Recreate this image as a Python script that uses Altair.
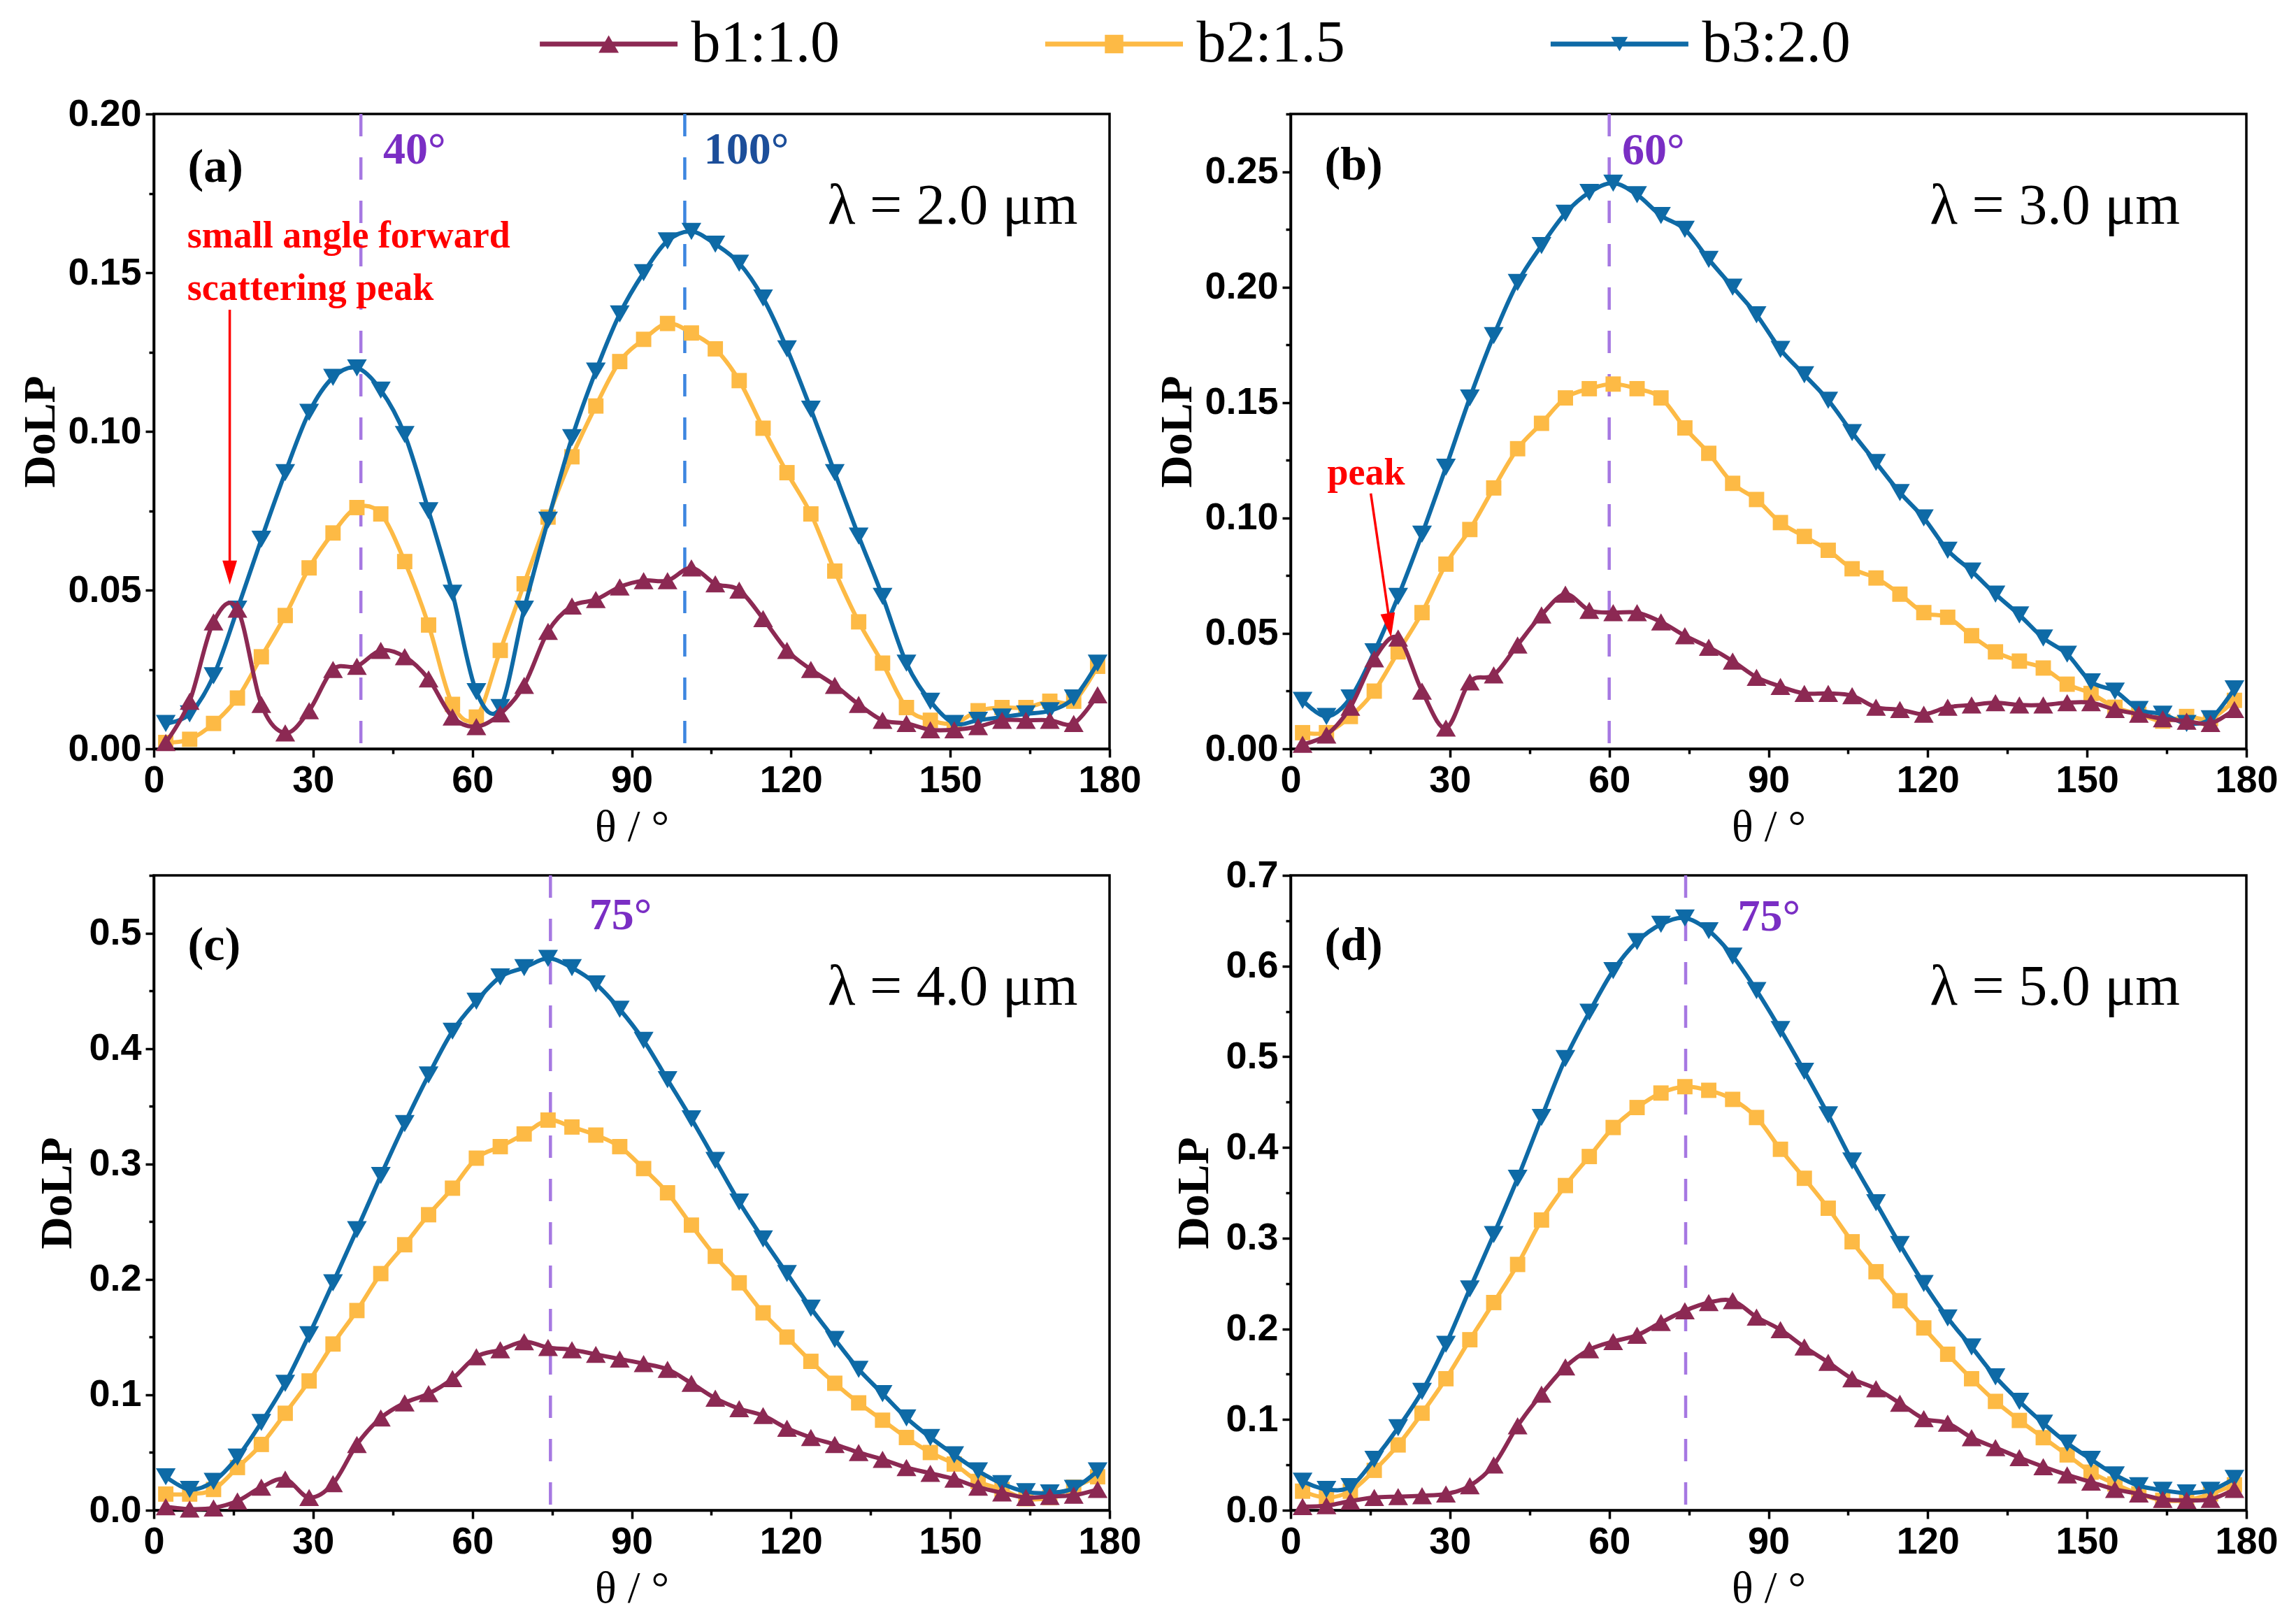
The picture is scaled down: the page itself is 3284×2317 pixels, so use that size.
import altair as alt
import pandas as pd

# ---------------- data ----------------
theta = [2.25, 6.75, 11.25, 15.75, 20.25, 24.75, 29.25, 33.75, 38.25, 42.75,
         47.25, 51.75, 56.25, 60.75, 65.25, 69.75, 74.25, 78.75, 83.25, 87.75,
         92.25, 96.75, 101.25, 105.75, 110.25, 114.75, 119.25, 123.75, 128.25, 132.75,
         137.25, 141.75, 146.25, 150.75, 155.25, 159.75, 164.25, 168.75, 173.25, 177.75]

series_names = ["b1:1.0", "b2:1.5", "b3:2.0"]

# panel (a) lambda = 2.0 um
a_b1 = [0.002, 0.015, 0.040, 0.044, 0.014, 0.005, 0.012, 0.025, 0.026, 0.031,
        0.029, 0.022, 0.010, 0.007, 0.011, 0.020, 0.037, 0.045, 0.047, 0.051,
        0.053, 0.053, 0.057, 0.052, 0.050, 0.041, 0.031, 0.025, 0.020, 0.014,
        0.009, 0.008, 0.006, 0.006, 0.007, 0.009, 0.009, 0.009, 0.008, 0.017]
a_b2 = [0.002, 0.003, 0.008, 0.016, 0.029, 0.042, 0.057, 0.068, 0.076, 0.074,
        0.059, 0.039, 0.014, 0.010, 0.031, 0.052, 0.073, 0.092, 0.108, 0.122,
        0.129, 0.134, 0.131, 0.126, 0.116, 0.101, 0.087, 0.074, 0.056, 0.040,
        0.027, 0.013, 0.009, 0.008, 0.012, 0.013, 0.013, 0.015, 0.015, 0.026]
a_b3 = [0.008, 0.011, 0.023, 0.044, 0.066, 0.087, 0.106, 0.117, 0.120, 0.113,
        0.099, 0.075, 0.049, 0.018, 0.013, 0.044, 0.072, 0.098, 0.119, 0.137,
        0.150, 0.160, 0.163, 0.159, 0.153, 0.142, 0.126, 0.107, 0.087, 0.067,
        0.048, 0.027, 0.015, 0.008, 0.009, 0.010, 0.011, 0.012, 0.016, 0.027]

# panel (b) lambda = 3.0 um
b_b1 = [0.002, 0.006, 0.018, 0.039, 0.048, 0.025, 0.009, 0.029, 0.032, 0.045,
        0.058, 0.067, 0.060, 0.059, 0.059, 0.055, 0.049, 0.044, 0.038, 0.031,
        0.027, 0.024, 0.024, 0.023, 0.018, 0.017, 0.015, 0.018, 0.019, 0.020,
        0.019, 0.019, 0.020, 0.020, 0.017, 0.015, 0.013, 0.012, 0.011, 0.017]
b_b2 = [0.007, 0.007, 0.014, 0.025, 0.042, 0.059, 0.080, 0.095, 0.113, 0.130,
        0.141, 0.152, 0.156, 0.158, 0.156, 0.152, 0.139, 0.128, 0.115, 0.108,
        0.098, 0.092, 0.086, 0.078, 0.074, 0.067, 0.059, 0.057, 0.049, 0.042,
        0.038, 0.035, 0.028, 0.024, 0.018, 0.015, 0.012, 0.014, 0.013, 0.021]
b_b3 = [0.021, 0.014, 0.022, 0.042, 0.066, 0.093, 0.122, 0.152, 0.179, 0.202,
        0.218, 0.232, 0.241, 0.245, 0.240, 0.231, 0.225, 0.212, 0.200, 0.188,
        0.173, 0.162, 0.151, 0.137, 0.124, 0.111, 0.100, 0.086, 0.077, 0.067,
        0.058, 0.048, 0.041, 0.029, 0.025, 0.017, 0.015, 0.011, 0.013, 0.026]

# panel (c) lambda = 4.0 um
c_b1 = [0.003, 0.001, 0.002, 0.008, 0.020, 0.027, 0.011, 0.023, 0.057, 0.080,
        0.093, 0.101, 0.114, 0.133, 0.139, 0.146, 0.141, 0.139, 0.135, 0.131,
        0.127, 0.122, 0.110, 0.097, 0.088, 0.082, 0.071, 0.063, 0.057, 0.050,
        0.044, 0.037, 0.032, 0.027, 0.020, 0.015, 0.011, 0.012, 0.013, 0.018]
c_b2 = [0.014, 0.014, 0.018, 0.037, 0.057, 0.084, 0.112, 0.144, 0.173, 0.205,
        0.230, 0.256, 0.279, 0.305, 0.315, 0.326, 0.338, 0.332, 0.325, 0.315,
        0.296, 0.275, 0.247, 0.220, 0.197, 0.171, 0.150, 0.129, 0.110, 0.093,
        0.078, 0.063, 0.050, 0.040, 0.025, 0.018, 0.010, 0.011, 0.020, 0.029]
c_b3 = [0.029, 0.018, 0.025, 0.046, 0.076, 0.110, 0.152, 0.197, 0.243, 0.290,
        0.335, 0.377, 0.415, 0.441, 0.462, 0.470, 0.478, 0.470, 0.456, 0.434,
        0.407, 0.373, 0.339, 0.303, 0.267, 0.235, 0.205, 0.175, 0.148, 0.122,
        0.101, 0.080, 0.063, 0.048, 0.034, 0.023, 0.016, 0.015, 0.019, 0.034]

# panel (d) lambda = 5.0 um
d_b1 = [0.004, 0.005, 0.010, 0.014, 0.015, 0.016, 0.018, 0.027, 0.050, 0.093,
        0.128, 0.158, 0.177, 0.186, 0.193, 0.207, 0.220, 0.229, 0.231, 0.213,
        0.199, 0.180, 0.163, 0.145, 0.134, 0.118, 0.101, 0.096, 0.080, 0.069,
        0.058, 0.048, 0.039, 0.031, 0.023, 0.018, 0.012, 0.011, 0.012, 0.023]
d_b2 = [0.021, 0.014, 0.021, 0.044, 0.072, 0.107, 0.145, 0.188, 0.229, 0.271,
        0.320, 0.358, 0.390, 0.422, 0.444, 0.460, 0.467, 0.463, 0.453, 0.433,
        0.398, 0.366, 0.333, 0.296, 0.263, 0.231, 0.201, 0.172, 0.145, 0.120,
        0.099, 0.080, 0.061, 0.042, 0.029, 0.018, 0.011, 0.011, 0.018, 0.028]
d_b3 = [0.032, 0.023, 0.026, 0.056, 0.091, 0.131, 0.183, 0.244, 0.304, 0.366,
        0.433, 0.498, 0.549, 0.595, 0.627, 0.646, 0.653, 0.639, 0.611, 0.573,
        0.530, 0.484, 0.436, 0.385, 0.339, 0.293, 0.250, 0.212, 0.180, 0.147,
        0.120, 0.096, 0.074, 0.056, 0.039, 0.027, 0.022, 0.019, 0.022, 0.035]

# axes
x_ticks = [0, 15, 30, 45, 60, 75, 90, 105, 120, 135, 150, 165, 180]
y_max = [0.20, 0.275, 0.55, 0.70]
y_ticks = [
    [0.0, 0.025, 0.05, 0.075, 0.10, 0.125, 0.15, 0.175, 0.20],
    [0.0, 0.025, 0.05, 0.075, 0.10, 0.125, 0.15, 0.175, 0.20, 0.225, 0.25, 0.275],
    [0.0, 0.05, 0.1, 0.15, 0.2, 0.25, 0.3, 0.35, 0.4, 0.45, 0.5, 0.55],
    [0.0, 0.05, 0.1, 0.15, 0.2, 0.25, 0.3, 0.35, 0.4, 0.45, 0.5, 0.55, 0.6, 0.65, 0.7],
]
y_major = [0.05, 0.05, 0.1, 0.1]
y_fmt = [".2f", ".2f", ".1f", ".1f"]

# annotations (data coordinates)
panel_letters = ["(a)", "(b)", "(c)", "(d)"]
letter_x = [6.4, 6.4, 6.4, 6.4]
letter_y = [0.183, 0.2525, 0.489, 0.622]

lambda_text = ["λ = 2.0 μm", "λ = 3.0 μm", "λ = 4.0 μm", "λ = 5.0 μm"]
lambda_x = [174.0, 167.5, 174.0, 167.5]
lambda_y = [0.171, 0.235, 0.453, 0.577]

vline_panel = [0, 0, 1, 2, 3]
vline_theta = [39.0, 100.0, 60.0, 74.7, 74.4]
vline_kind = ["purple", "blue", "purple", "purple", "purple"]
vlabel_text = ["40°", "100°", "60°", "75°", "75°"]
vlabel_x = [43.2, 103.6, 62.4, 82.0, 84.2]
vlabel_y = [0.1885, 0.1885, 0.259, 0.515, 0.654]

note_panel = [0, 0, 1]
note_text = ["small angle forward", "scattering peak", "peak"]
note_x = [6.3, 6.3, 6.9]
note_y = [0.1615, 0.1449, 0.1193]

arrow_panel = [0, 1]
arrow_x = [14.3, 15.1]
arrow_y = [0.1383, 0.1106]
arrow_x2 = [14.3, 18.7]
arrow_y2 = [0.058, 0.054]
arrow_head_x = [14.3, 18.6]
arrow_head_y = [0.0555, 0.0535]

# ---------------- style ----------------
C_B1 = "#8C2953"
C_B2 = "#FDBA45"
C_B3 = "#0E6AA6"
KIND_LINE = {"purple": "#A678E2", "blue": "#3D86E0"}
KIND_TEXT = {"purple": "#7A2EC4", "blue": "#1C4E9A"}
C_RED = "#FF0000"
SANS = "Liberation Sans Narrow, Liberation Sans, Arial, sans-serif"
SERIF = "Liberation Serif, Times New Roman, serif"

PLOT_W = 1367
PLOT_H = 908

series_data = [
    (a_b1, a_b2, a_b3),
    (b_b1, b_b2, b_b3),
    (c_b1, c_b2, c_b3),
    (d_b1, d_b2, d_b3),
]


def make_panel(idx):
    b1, b2, b3 = series_data[idx]
    df = pd.DataFrame({"theta": theta, "b1": b1, "b2": b2, "b3": b3})

    xs = alt.Scale(domain=[0, 180], nice=False, zero=False)
    ys = alt.Scale(domain=[0, y_max[idx]], nice=False, zero=False)

    x_test = "datum.value % 30 === 0"
    y_test = f"abs(datum.value / {y_major[idx]} - round(datum.value / {y_major[idx]})) < 0.001"

    x_axis = alt.Axis(
        values=x_ticks, title="θ / °",
        labelExpr=f"{x_test} ? format(datum.value, 'd') : ''",
        tickSize={"condition": {"test": x_test, "value": 12}, "value": 7},
        labelFlush=False, labelOverlap=False, labelPadding=6,
        titlePadding=8,
    )
    y_axis = alt.Axis(
        values=y_ticks[idx], title="DoLP",
        labelExpr=f"{y_test} ? format(datum.value, '{y_fmt[idx]}') : ''",
        tickSize={"condition": {"test": y_test, "value": 12}, "value": 7},
        labelFlush=False, labelOverlap=False, labelPadding=6,
        titlePadding=6 if idx < 2 else 12,
    )

    def X(field="theta"):
        return alt.X(f"{field}:Q", scale=xs, axis=x_axis)

    def Y(field):
        return alt.Y(f"{field}:Q", scale=ys, axis=y_axis)

    layers = []

    vdf = pd.DataFrame({"theta": vline_theta, "kind": vline_kind, "panel": vline_panel,
                        "val": vlabel_y, "lx": vlabel_x, "txt": vlabel_text})
    vdf = vdf[vdf["panel"] == idx]

    # dashed guide lines
    for kind in ["purple", "blue"]:
        sub = vdf[vdf["kind"] == kind]
        if len(sub):
            layers.append(
                alt.Chart(sub).mark_rule(strokeDash=[32, 30], strokeWidth=4.5,
                                         color=KIND_LINE[kind]).encode(x=X())
            )

    base = alt.Chart(df)
    for col, color, shape, size in [("b2", C_B2, "square", 480),
                                    ("b3", C_B3, "triangle-down", 800),
                                    ("b1", C_B1, "triangle-up", 800)]:
        layers.append(base.mark_line(color=color, strokeWidth=6,
                                     interpolate="cardinal").encode(x=X(), y=Y(col)))
        layers.append(base.mark_point(color=color, filled=True, opacity=1, size=size,
                                      shape=shape).encode(x=X(), y=Y(col)))

    # guide labels
    for kind in ["purple", "blue"]:
        sub = vdf[vdf["kind"] == kind]
        if len(sub):
            layers.append(
                alt.Chart(sub).mark_text(align="left", baseline="middle", font=SERIF,
                                         fontSize=64, fontWeight="bold",
                                         color=KIND_TEXT[kind]).encode(
                    x=X("lx"), y=Y("val"), text="txt:N")
            )

    # panel letter
    pdf = pd.DataFrame({"theta": [letter_x[idx]], "val": [letter_y[idx]],
                        "txt": [panel_letters[idx]]})
    layers.append(
        alt.Chart(pdf).mark_text(align="left", baseline="middle", font=SERIF,
                                 fontSize=68, fontWeight="bold", color="black").encode(
            x=X(), y=Y("val"), text="txt:N")
    )

    # wavelength
    wdf = pd.DataFrame({"theta": [lambda_x[idx]], "val": [lambda_y[idx]],
                        "txt": [lambda_text[idx]]})
    layers.append(
        alt.Chart(wdf).mark_text(align="right", baseline="middle", font=SERIF,
                                 fontSize=82, color="black").encode(
            x=X(), y=Y("val"), text="txt:N")
    )

    # red notes and arrows
    ndf = pd.DataFrame({"theta": note_x, "val": note_y, "txt": note_text, "panel": note_panel})
    ndf = ndf[ndf["panel"] == idx]
    if len(ndf):
        layers.append(
            alt.Chart(ndf).mark_text(align="left", baseline="middle", font=SERIF,
                                     fontSize=54, fontWeight="bold", color=C_RED).encode(
                x=X(), y=Y("val"), text="txt:N")
        )
    adf = pd.DataFrame({"theta": arrow_x, "val": arrow_y, "theta2": arrow_x2,
                        "val2": arrow_y2, "hx": arrow_head_x, "hy": arrow_head_y,
                        "panel": arrow_panel})
    adf = adf[adf["panel"] == idx]
    if len(adf):
        layers.append(
            alt.Chart(adf).mark_rule(color=C_RED, strokeWidth=3.5).encode(
                x=X(), y=Y("val"), x2="theta2:Q", y2="val2:Q")
        )
        head_angle = 0 if idx == 0 else 352
        layers.append(
            alt.Chart(adf).mark_point(shape="M-0.6,-1L0.6,-1L0,1Z", filled=True, opacity=1,
                                      color=C_RED, size=1200, angle=head_angle).encode(
                x=X("hx"), y=Y("hy"))
        )

    return alt.layer(*layers).properties(width=PLOT_W, height=PLOT_H)


panels = [make_panel(i) for i in range(4)]

grid = alt.concat(*panels, columns=2,
                  spacing={"row": 181, "column": 259}, bounds="flush")

# ---------------- legend ----------------
leg_df = pd.DataFrame({"name": series_names})
leg_x = alt.X("name:N", scale=alt.Scale(type="point", domain=series_names, padding=0.9),
              axis=None)
leg_color = alt.Color("name:N", scale=alt.Scale(domain=series_names,
                                              range=[C_B1, C_B2, C_B3]), legend=None)
leg_line = alt.Chart(leg_df).mark_tick(orient="horizontal", size=197, thickness=7,
                                       opacity=1).encode(x=leg_x, color=leg_color)
leg_sym = alt.Chart(leg_df).mark_point(filled=True, opacity=1).encode(
    x=leg_x,
    color=leg_color,
    shape=alt.Shape("name:N", scale=alt.Scale(domain=series_names,
                                            range=["triangle-up", "square", "triangle-down"]),
                    legend=None),
    size=alt.Size("name:O", scale=alt.Scale(domain=series_names, range=[840, 560, 800]),
                  legend=None),
)
leg_txt = alt.Chart(leg_df).mark_text(align="left", baseline="middle", dx=118,
                                      font=SERIF, fontSize=84, color="black").encode(
    x=leg_x, text="name:N")
legend = alt.layer(leg_line, leg_sym, leg_txt).properties(
    width=2747, height=90, view=alt.ViewBackground(strokeOpacity=0))

chart = alt.vconcat(legend, grid, spacing=26).properties(
    padding={"left": 17, "top": 10, "right": 0, "bottom": 0}
).configure_view(
    stroke="black", strokeWidth=3.5
).configure_axis(
    grid=False, domainColor="black", domainWidth=3.5, tickColor="black",
    tickWidth=3.5, labelFont=SANS, labelFontSize=54, labelFontWeight="bold",
    labelColor="black", titleFont=SERIF, titleColor="black",
).configure_axisX(
    titleFontSize=64, titleFontWeight="normal",
).configure_axisY(
    titleFontSize=64, titleFontWeight="bold",
)

chart.save("out.html", embed_options={"renderer": "svg", "actions": False})
